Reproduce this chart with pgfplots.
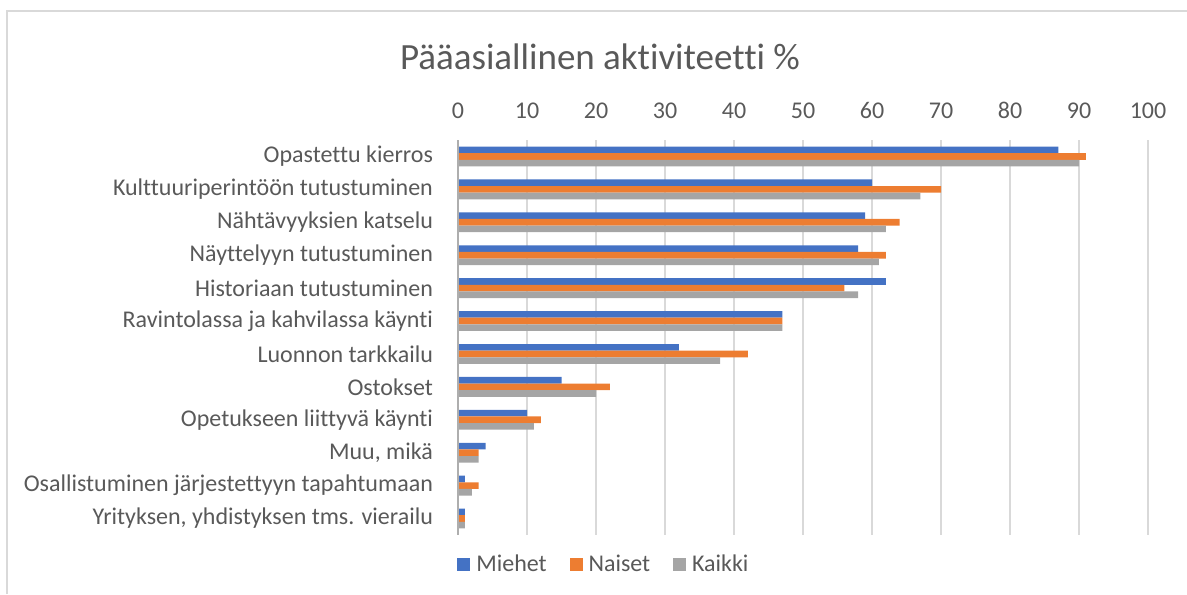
\documentclass[border=0pt]{standalone}
\usepackage{pgfplots}
\pgfplotsset{compat=1.18}
\usepackage{fontspec}
\setmainfont{Carlito}[Ligatures={NoCommon}]
\definecolor{cBlue}{HTML}{4472C4}
\definecolor{cOrange}{HTML}{ED7D31}
\definecolor{cGray}{HTML}{A5A5A5}
\definecolor{cText}{HTML}{595959}
\definecolor{cGrid}{HTML}{D9D9D9}
\begin{document}
\begin{tikzpicture}
\path[use as bounding box] (0,0) rectangle (593.5pt,297pt);
\draw[cGrid, line width=0.6pt] (3.5pt,0) -- (3.5pt,291.5pt) -- (593.5pt,291.5pt);
\node[text=cText, font=\fontsize{18.5}{22}\selectfont] at (300pt,268.5pt) {Pääasiallinen aktiviteetti \%};
\begin{axis}[
  at={(229pt,29.5pt)}, anchor=south west,
  scale only axis, width=345pt, height=197.5pt,
  xbar, bar width=3.3pt,
  xmin=0, xmax=100,
  ymin=-0.5, ymax=11.5, y dir=reverse,
  ytick={0,...,11},
  yticklabels={Opastettu kierros, Kulttuuriperintöön tutustuminen, Nähtävyyksien katselu, Näyttelyyn tutustuminen, Historiaan tutustuminen, Ravintolassa ja kahvilassa käynti, Luonnon tarkkailu, Ostokset, Opetukseen liittyvä käynti, {Muu, mikä}, Osallistuminen järjestettyyn tapahtumaan, {Yrityksen, yhdistyksen tms. vierailu}},
  xtick={0,10,...,100},
  xticklabel pos=top,
  major tick length=0pt,
  axis line style={draw=none},
  xmajorgrids, grid style={cGrid, line width=0.8pt},
  tick label style={text=cText, font=\fontsize{12}{14}\selectfont},
  yticklabel style={xshift=-9pt},
  xticklabel style={yshift=7pt},
  /pgf/number format/assume math mode=true,
  legend columns=3,
  legend style={at={(0.213,-0.075)}, anchor=center, draw=none, fill=none,
    font=\fontsize{12}{14}\selectfont, text=cText,
    /tikz/every odd column/.append style={column sep=1pt},
    /tikz/every even column/.append style={column sep=9.5pt}},
  legend image code/.code={\fill[#1] (0pt,-3.2pt) rectangle (6.4pt,3.2pt);},
  clip=false,
]
\addplot[fill=cBlue, draw=none, bar shift=3.3pt] coordinates {(87,0) (60,1) (59,2) (58,3) (62,4) (47,5) (32,6) (15,7) (10,8) (4,9) (1,10) (1,11)};
\addplot[fill=cOrange, draw=none, bar shift=0pt] coordinates {(91,0) (70,1) (64,2) (62,3) (56,4) (47,5) (42,6) (22,7) (12,8) (3,9) (3,10) (1,11)};
\addplot[fill=cGray, draw=none, bar shift=-3.3pt] coordinates {(90,0) (67,1) (62,2) (61,3) (58,4) (47,5) (38,6) (20,7) (11,8) (3,9) (2,10) (1,11)};
\legend{Miehet, Naiset, Kaikki}
\draw[color=cGrid!80!black, line width=0.8pt] (axis cs:0,-0.5) -- (axis cs:0,11.5);
\end{axis}
\end{tikzpicture}
\end{document}
